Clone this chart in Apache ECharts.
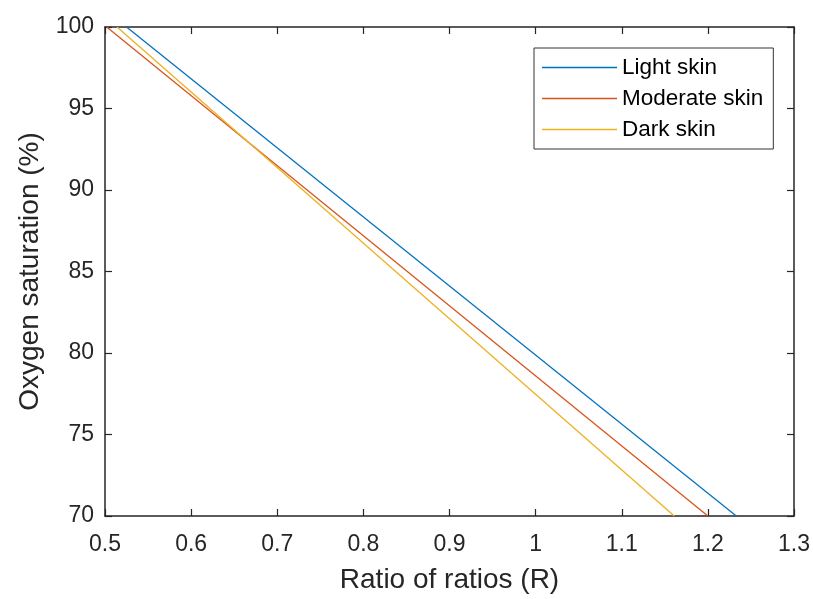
<!DOCTYPE html>
<html>
<head>
<meta charset="utf-8">
<script src="https://cdn.jsdelivr.net/npm/echarts@6/dist/echarts.min.js"></script>
<style>
  html, body { margin: 0; padding: 0; background: #fff; }
  #chart { width: 813px; height: 599px; }
</style>
</head>
<body>
<div id="chart"></div>
<script>
// values: each line is straight, from SpO2 100 to 70
const seriesNames = ['Light skin', 'Moderate skin', 'Dark skin'];
const lightSkin = [[0.525, 100], [1.233, 70]];
const moderateSkin = [[0.502, 100], [1.200, 70]];
const darkSkin = [[0.514, 100], [1.161, 70]];
const colors = ['#0072BD', '#D95319', '#EDB120'];

const axisColor = '#262626';
const font = 'Liberation Sans, Arial, sans-serif';

let chart = echarts.init(document.getElementById('chart'));

function lineSeries(name, data, color) {
  return {
    name: name,
    type: 'line',
    data: data,
    showSymbol: false,
    symbol: 'none',
    silent: true,
    lineStyle: { color: color, width: 1.3 },
    itemStyle: { color: color }
  };
}

const tickStyle = { show: true, inside: true, length: 7, lineStyle: { color: axisColor, width: 1.2 } };
const lineStyleAxis = { show: true, lineStyle: { color: axisColor, width: 1.5 } };

chart.setOption({
  animation: false,
  grid: { left: 105, right: 19, top: 27, bottom: 82, containLabel: false },
  legend: {
    orient: 'vertical',
    left: 534,
    top: 48,
    data: seriesNames,
    icon: 'rect',
    itemWidth: 75,
    itemHeight: 1.3,
    itemGap: 8,
    padding: [8, 10, 8, 8],
    borderColor: '#333',
    borderWidth: 1,
    borderRadius: 0,
    backgroundColor: '#fff',
    textStyle: { fontFamily: font, fontSize: 22.5, color: '#000', padding: [0, 0, 0, 0] }
  },
  xAxis: [
    {
      type: 'value',
      min: 0.5,
      max: 1.3,
      interval: 0.1,
      position: 'bottom',
      axisLine: lineStyleAxis,
      axisTick: tickStyle,
      splitLine: { show: false },
      axisLabel: {
        fontFamily: font, fontSize: 23, color: axisColor, margin: 17,
        formatter: v => String(Math.round(v * 10) / 10)
      },
      name: 'Ratio of ratios (R)',
      nameLocation: 'middle',
      nameGap: 50,
      nameTextStyle: { fontFamily: font, fontSize: 28, color: axisColor }
    },
    {
      type: 'value',
      min: 0.5,
      max: 1.3,
      interval: 0.1,
      position: 'top',
      axisLine: lineStyleAxis,
      axisTick: tickStyle,
      axisLabel: { show: false },
      splitLine: { show: false }
    }
  ],
  yAxis: [
    {
      type: 'value',
      min: 70,
      max: 100,
      interval: 5,
      position: 'left',
      axisLine: lineStyleAxis,
      axisTick: tickStyle,
      splitLine: { show: false },
      axisLabel: { fontFamily: font, fontSize: 23, color: axisColor, margin: 11 },
      name: 'Oxygen saturation (%)',
      nameLocation: 'middle',
      nameGap: 61,
      nameTextStyle: { fontFamily: font, fontSize: 28, color: axisColor }
    },
    {
      type: 'value',
      min: 70,
      max: 100,
      interval: 5,
      position: 'right',
      axisLine: lineStyleAxis,
      axisTick: tickStyle,
      axisLabel: { show: false },
      splitLine: { show: false }
    }
  ],
  series: [
    lineSeries(seriesNames[0], lightSkin, colors[0]),
    lineSeries(seriesNames[1], moderateSkin, colors[1]),
    lineSeries(seriesNames[2], darkSkin, colors[2])
  ]
});
</script>
</body>
</html>
